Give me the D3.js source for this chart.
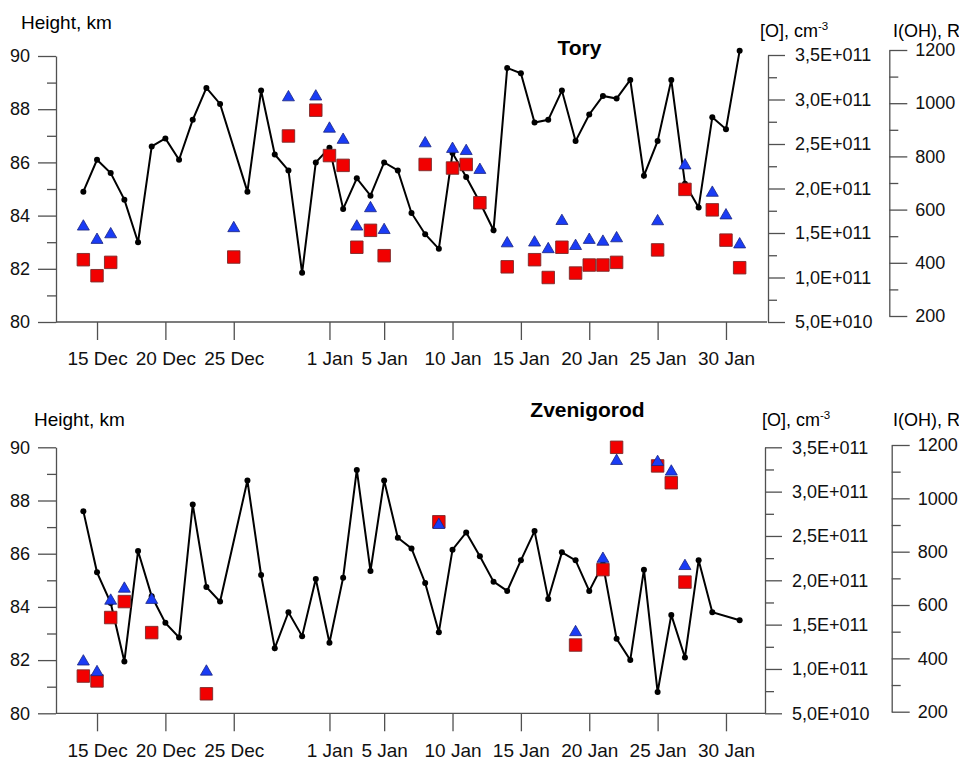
<!DOCTYPE html>
<html>
<head>
<meta charset="utf-8">
<script src="https://cdn.jsdelivr.net/npm/d3@7"></script>
<style>
  body { margin: 0; background: #fff; }
  svg { display: block; font-family: "Liberation Sans", Arial, sans-serif; }
  .axis path, .axis line { stroke: #505050; stroke-width: 1.3; fill: none; }
  .axis text { fill: #111; }
</style>
</head>
<body>
<svg id="chart" width="959" height="761"></svg>
<script>
// ---------- DATA ----------
const xTickDates  = ["2015-12-15","2015-12-20","2015-12-25","2016-01-01","2016-01-05","2016-01-10","2016-01-15","2016-01-20","2016-01-25","2016-01-30"];
const xTickLabels = ["15 Dec","20 Dec","25 Dec","1 Jan","5 Jan","10 Jan","15 Jan","20 Jan","25 Jan","30 Jan"];

const heightTicks = [80, 82, 84, 86, 88, 90];
const heightMinor = [81, 83, 85, 87, 89];
const oTicks      = [5e10, 1e11, 1.5e11, 2e11, 2.5e11, 3e11, 3.5e11];
const oTickLabels = ["5,0E+010","1,0E+011","1,5E+011","2,0E+011","2,5E+011","3,0E+011","3,5E+011"];
const oMinor      = [7.5e10, 1.25e11, 1.75e11, 2.25e11, 2.75e11, 3.25e11];
const ohTicks     = [200, 400, 600, 800, 1000, 1200];
const ohMinor     = [300, 500, 700, 900, 1100];

// Tory
const toryHeightDates = ["2015-12-14","2015-12-15","2015-12-16","2015-12-17","2015-12-18","2015-12-19","2015-12-20","2015-12-21","2015-12-22","2015-12-23","2015-12-24",
  "2015-12-26","2015-12-27","2015-12-28","2015-12-29","2015-12-30","2015-12-31","2016-01-01","2016-01-02","2016-01-03","2016-01-04","2016-01-05","2016-01-06",
  "2016-01-07","2016-01-08","2016-01-09","2016-01-10","2016-01-11","2016-01-12","2016-01-13","2016-01-14","2016-01-15","2016-01-16","2016-01-17","2016-01-18",
  "2016-01-19","2016-01-20","2016-01-21","2016-01-22","2016-01-23","2016-01-24","2016-01-25","2016-01-26","2016-01-27","2016-01-28","2016-01-29","2016-01-30","2016-01-31"];
const toryHeight = [84.9, 86.1, 85.6, 84.6, 83.0, 86.6, 86.9, 86.1, 87.6, 88.8, 88.2,
  84.9, 88.7, 86.3, 85.7, 81.85, 86.0, 86.55, 84.25, 85.4, 84.75, 86.0, 85.7,
  84.1, 83.3, 82.75, 86.35, 85.45, 84.5, 83.45, 89.55, 89.35, 87.5, 87.6, 88.7,
  86.8, 87.8, 88.5, 88.4, 89.1, 85.5, 86.8, 89.1, 85.2, 84.3, 87.7, 87.25, 90.2];

const toryEmissionDates = ["2015-12-14","2015-12-15","2015-12-16","2015-12-25","2015-12-29","2015-12-31","2016-01-01","2016-01-02","2016-01-03","2016-01-04",
  "2016-01-05","2016-01-08","2016-01-10","2016-01-11","2016-01-12","2016-01-14","2016-01-16","2016-01-17","2016-01-18","2016-01-19","2016-01-20",
  "2016-01-21","2016-01-22","2016-01-25","2016-01-27","2016-01-29","2016-01-30","2016-01-31"];
const toryO = [1.20e11, 1.02e11, 1.17e11, 1.23e11, 2.59e11, 2.88e11, 2.37e11, 2.26e11, 1.34e11, 1.53e11,
  1.245e11, 2.27e11, 2.23e11, 2.27e11, 1.84e11, 1.12e11, 1.20e11, 1.00e11, 1.34e11, 1.05e11, 1.14e11,
  1.14e11, 1.17e11, 1.31e11, 1.99e11, 1.76e11, 1.42e11, 1.11e11];
const toryOH = [536, 486, 507, 530, 1022, 1025, 904, 862, 536, 605,
  523, 849, 828, 820, 749, 473, 476, 451, 557, 463, 486,
  479, 492, 556, 766, 663, 578, 469];

// Zvenigorod
const zvenHeightDates = ["2015-12-14","2015-12-15","2015-12-16","2015-12-17","2015-12-18","2015-12-19","2015-12-20","2015-12-21","2015-12-22","2015-12-23","2015-12-24",
  "2015-12-26","2015-12-27","2015-12-28","2015-12-29","2015-12-30","2015-12-31","2016-01-01","2016-01-02","2016-01-03","2016-01-04","2016-01-05","2016-01-06",
  "2016-01-07","2016-01-08","2016-01-09","2016-01-10","2016-01-11","2016-01-12","2016-01-13","2016-01-14","2016-01-15","2016-01-16","2016-01-17","2016-01-18",
  "2016-01-19","2016-01-20","2016-01-21","2016-01-22","2016-01-23","2016-01-24","2016-01-25","2016-01-26","2016-01-27","2016-01-28","2016-01-29","2016-01-31"];
const zvenHeight = [87.6, 85.3, 84.15, 81.95, 86.1, 84.4, 83.4, 82.85, 87.85, 84.75, 84.2,
  88.75, 85.2, 82.45, 83.8, 82.9, 85.05, 82.65, 85.1, 89.15, 85.35, 88.75, 86.6,
  86.2, 84.9, 83.05, 86.15, 86.8, 85.9, 84.95, 84.6, 85.75, 86.85, 84.3, 86.05,
  85.75, 84.6, 85.6, 82.8, 82.0, 85.4, 80.8, 83.7, 82.1, 85.75, 83.8, 83.5];

const zvenEmissionDates = ["2015-12-14","2015-12-15","2015-12-16","2015-12-17","2015-12-19","2015-12-23","2016-01-09",
  "2016-01-19","2016-01-21","2016-01-22","2016-01-25","2016-01-26","2016-01-27"];
const zvenO  = [0.92e11, 0.865e11, 1.58e11, 1.76e11, 1.41e11, 0.72e11, 2.66e11, 1.27e11, 2.12e11, 3.50e11, 3.29e11, 3.10e11, 1.98e11];
const zvenOH = [388, 348, 616, 661, 619, 350, 900, 498, 773, 1140, 1136, 1100, 746];

// ---------- DRAW ----------
const parse = d3.timeParse("%Y-%m-%d");
const svg = d3.select("#chart");
const FONT_TICK = 18, FONT_XTICK = 19, FONT_TITLE = 19;

const x = d3.scaleTime()
  .domain([parse("2015-12-12"), parse("2016-02-02")])
  .range([56, 767]);

const panels = [
  { name: "Tory", hDates: toryHeightDates, h: toryHeight, eDates: toryEmissionDates, o: toryO, oh: toryOH,
    axisY: 322, top: 56, xEnd: 767, oX: 768, oRange: [322, 55], ohX: 889.3, ohRange: [316, 50],
    hTitle: [21, 29], oTitle: [760, 37], ohTitle: [893, 37], title: [579.5, 55] },
  { name: "Zvenigorod", hDates: zvenHeightDates, h: zvenHeight, eDates: zvenEmissionDates, o: zvenO, oh: zvenOH,
    axisY: 713.3, top: 447.3, xEnd: 765, oX: 765, oRange: [713.3, 447.3], ohX: 891.7, ohRange: [711.7, 445],
    hTitle: [34, 426], oTitle: [762, 426], ohTitle: [893, 426], title: [587.5, 417] }
];

panels.forEach(p => {
  const g = svg.append("g");
  const y  = d3.scaleLinear().domain([80, 90]).range([p.axisY, p.top]);
  const yO = d3.scaleLinear().domain([5e10, 3.5e11]).range(p.oRange);
  const yOH = d3.scaleLinear().domain([200, 1200]).range(p.ohRange);

  // x axis
  const xa = g.append("g").attr("class", "axis").attr("transform", `translate(0,${p.axisY})`)
    .call(d3.axisBottom(x).tickValues(xTickDates.map(parse))
      .tickFormat((d, i) => xTickLabels[i]).tickSize(18).tickSizeOuter(0).tickPadding(12));
  xa.select(".domain").remove();
  xa.selectAll("text").style("font-size", FONT_XTICK + "px");
  g.append("line").attr("x1", 56).attr("x2", p.xEnd).attr("y1", p.axisY).attr("y2", p.axisY)
    .attr("stroke", "#505050").attr("stroke-width", 1.3);

  // left height axis
  const ya = g.append("g").attr("class", "axis").attr("transform", "translate(56,0)")
    .call(d3.axisLeft(y).tickValues(heightTicks).tickFormat(d3.format("d")).tickSize(18).tickSizeOuter(0).tickPadding(8));
  ya.selectAll("text").style("font-size", FONT_TICK + "px");
  g.append("g").attr("class", "axis").attr("transform", "translate(56,0)")
    .call(d3.axisLeft(y).tickValues(heightMinor).tickFormat("").tickSize(9).tickSizeOuter(0))
    .select(".domain").remove();

  // [O] axis
  const oa = g.append("g").attr("class", "axis").attr("transform", `translate(${p.oX},0)`)
    .call(d3.axisRight(yO).tickValues(oTicks).tickFormat((d, i) => oTickLabels[i]).tickSize(17).tickSizeOuter(0).tickPadding(10));
  oa.selectAll("text").style("font-size", FONT_TICK + "px");
  g.append("g").attr("class", "axis").attr("transform", `translate(${p.oX},0)`)
    .call(d3.axisRight(yO).tickValues(oMinor).tickFormat("").tickSize(9).tickSizeOuter(0))
    .select(".domain").remove();

  // I(OH) axis
  const oha = g.append("g").attr("class", "axis").attr("transform", `translate(${p.ohX},0)`)
    .call(d3.axisRight(yOH).tickValues(ohTicks).tickFormat(d3.format("d")).tickSize(18).tickSizeOuter(0).tickPadding(8));
  oha.selectAll("text").style("font-size", FONT_TICK + "px");
  g.append("g").attr("class", "axis").attr("transform", `translate(${p.ohX},0)`)
    .call(d3.axisRight(yOH).tickValues(ohMinor).tickFormat("").tickSize(9).tickSizeOuter(0))
    .select(".domain").remove();

  // titles
  g.append("text").attr("x", p.hTitle[0]).attr("y", p.hTitle[1]).style("font-size", FONT_TITLE + "px").text("Height, km");
  const ot = g.append("text").attr("x", p.oTitle[0]).attr("y", p.oTitle[1]).style("font-size", "18px").text("[O], cm");
  ot.append("tspan").attr("dy", -7).style("font-size", "11.5px").text("-3");
  g.append("text").attr("x", p.ohTitle[0]).attr("y", p.ohTitle[1]).style("font-size", "18px").text("I(OH), R");
  g.append("text").attr("x", p.title[0]).attr("y", p.title[1]).attr("text-anchor", "middle")
    .style("font-size", "21px").style("font-weight", "bold").text(p.name);

  // height line
  const hData = p.hDates.map((d, i) => ({ date: parse(d), v: p.h[i] }));
  g.append("path").datum(hData)
    .attr("d", d3.line().x(d => x(d.date)).y(d => y(d.v)))
    .attr("fill", "none").attr("stroke", "#000").attr("stroke-width", 2);
  g.selectAll(".dot").data(hData).enter().append("circle")
    .attr("cx", d => x(d.date)).attr("cy", d => y(d.v)).attr("r", 3).attr("fill", "#000");

  const eData = p.eDates.map((d, i) => ({ date: parse(d), o: p.o[i], oh: p.oh[i] }));
  // [O] squares
  g.selectAll(".sq").data(eData).enter().append("path")
    .attr("transform", d => `translate(${x(d.date)},${yO(d.o)})`)
    .attr("d", d3.symbol().type(d3.symbolSquare).size(156))
    .attr("fill", "#f20000").attr("stroke", "#7a2a2a").attr("stroke-width", 0.9);
  // I(OH) triangles
  g.selectAll(".tri").data(eData).enter().append("path")
    .attr("transform", d => `translate(${x(d.date)},${yOH(d.oh)})`)
    .attr("d", d3.symbol().type(d3.symbolTriangle).size(62))
    .attr("fill", "#1a3cf5").attr("stroke", "#1a2580").attr("stroke-width", 0.8);
});
</script>
</body>
</html>
